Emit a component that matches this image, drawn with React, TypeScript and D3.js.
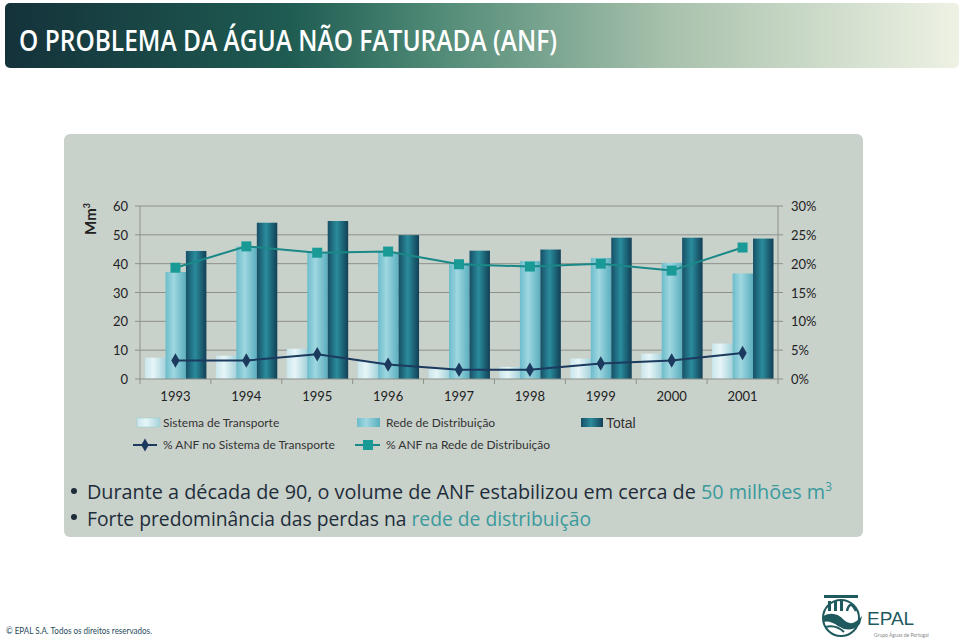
import React from "react";
import * as d3 from "d3";

const years = ["1993", "1994", "1995", "1996", "1997", "1998", "1999", "2000", "2001"];
const sistema = [7.4, 8.1, 10.5, 6.1, 3.4, 4.2, 7.1, 8.8, 12.3];
const rede = [37.1, 46.0, 44.1, 44.1, 40.3, 40.9, 42.0, 40.3, 36.6];
const total = [44.4, 54.2, 54.8, 49.9, 44.5, 44.9, 49.0, 49.0, 48.7];
const pctSistema = [3.2, 3.2, 4.3, 2.5, 1.6, 1.6, 2.7, 3.2, 4.5];
const pctRede = [19.3, 23.0, 21.9, 22.1, 19.9, 19.5, 20.0, 18.8, 22.8];
const leftTicks = [0, 10, 20, 30, 40, 50, 60];
const rightTicks = [0, 5, 10, 15, 20, 25, 30];
const barSeries = ["sistema", "rede", "total"];

export default function App() {
  const W = 959, H = 642;
  const x = d3.scaleBand<string>().domain(years).range([140, 778]).padding(0);
  const inner = d3.scaleBand<string>().domain(barSeries).range([5, x.bandwidth() - 4.5]).padding(0);
  const y = d3.scaleLinear().domain([0, 60]).range([379, 206]);
  const yP = d3.scaleLinear().domain([0, 30]).range([379, 206]);
  const data: Record<string, number[]> = { sistema, rede, total };
  const fills: Record<string, string> = { sistema: "url(#gS)", rede: "url(#gR)", total: "url(#gT)" };
  const cx = (i: number) => (x(years[i]) as number) + x.bandwidth() / 2;
  const lineS = d3.line<number>().x((_, i) => cx(i)).y((d) => yP(d));
  const axisFont = "Lato, 'Open Sans', sans-serif";
  const gridCol = "#8d918a";
  const bw = inner.bandwidth();

  return (
    <svg width={W} height={H} style={{ position: "absolute", left: 0, top: 0, display: "block" }}>
      <defs>
        <linearGradient id="gTitle" x1="0" x2="1" y1="0" y2="0">
          <stop offset="0" stopColor="#14323a" />
          <stop offset="0.3" stopColor="#1f5c52" />
          <stop offset="0.45" stopColor="#4f8a76" />
          <stop offset="0.7" stopColor="#a9c2ad" />
          <stop offset="1" stopColor="#eef2e4" />
        </linearGradient>
        <linearGradient id="gS" x1="0" x2="1" y1="0" y2="0">
          <stop offset="0" stopColor="#c9e6ec" />
          <stop offset="0.4" stopColor="#e6f5f7" />
          <stop offset="1" stopColor="#a6d3dc" />
        </linearGradient>
        <linearGradient id="gR" x1="0" x2="1" y1="0" y2="0">
          <stop offset="0" stopColor="#6cbccb" />
          <stop offset="0.4" stopColor="#9fd7e0" />
          <stop offset="1" stopColor="#5aaebf" />
        </linearGradient>
        <linearGradient id="gT" x1="0" x2="1" y1="0" y2="0">
          <stop offset="0" stopColor="#174f66" />
          <stop offset="0.45" stopColor="#2a8c9c" />
          <stop offset="1" stopColor="#123f55" />
        </linearGradient>
      </defs>
      <rect x={0} y={0} width={W} height={H} fill="#ffffff" />
      {/* title bar */}
      <rect x={5} y={3} width={954} height={65} rx={5} fill="url(#gTitle)" />
      <text x={19} y={51} fill="#ffffff" fontFamily="'Open Sans', sans-serif" fontWeight={600} fontSize={28} textLength={538} lengthAdjust="spacingAndGlyphs">
        O PROBLEMA DA ÁGUA NÃO FATURADA (ANF)
      </text>
      {/* panel */}
      <rect x={64} y={134} width={799} height={403} rx={6} fill="#c9d1cb" />
      {/* gridlines */}
      {leftTicks.slice(1).map((t) => (
        <line key={"g" + t} x1={140} x2={778} y1={y(t)} y2={y(t)} stroke={gridCol} strokeWidth={1} />
      ))}
      {/* bars */}
      {years.map((yr, i) => (
        <g key={yr}>
          {barSeries.map((s) => (
            <rect
              key={s}
              x={(x(yr) as number) + (inner(s) as number)}
              y={y(data[s][i])}
              width={bw}
              height={y(0) - y(data[s][i])}
              fill={fills[s]}
            />
          ))}
        </g>
      ))}
      {/* axes */}
      <line x1={140} x2={140} y1={206} y2={379} stroke={gridCol} />
      <line x1={778} x2={778} y1={206} y2={379} stroke={gridCol} />
      <line x1={140} x2={778} y1={379} y2={379} stroke={gridCol} />
      {leftTicks.map((t) => (
        <g key={"l" + t}>
          <line x1={135} x2={140} y1={y(t)} y2={y(t)} stroke={gridCol} />
          <text x={128} y={y(t) + 5} textAnchor="end" fontFamily={axisFont} fontSize={13} fill="#222">{t}</text>
        </g>
      ))}
      {rightTicks.map((t) => (
        <g key={"r" + t}>
          <line x1={778} x2={783} y1={yP(t)} y2={yP(t)} stroke={gridCol} />
          <text x={791} y={yP(t) + 5} textAnchor="start" fontFamily={axisFont} fontSize={13} fill="#222">{t}%</text>
        </g>
      ))}
      {years.map((yr, i) => (
        <g key={"x" + yr}>
          <line x1={(x(yr) as number) + x.bandwidth()} x2={(x(yr) as number) + x.bandwidth()} y1={379} y2={384} stroke={gridCol} />
          <text x={cx(i)} y={401} textAnchor="middle" fontFamily={axisFont} fontSize={13} fill="#222">{yr}</text>
        </g>
      ))}
      <line x1={140} x2={140} y1={379} y2={384} stroke={gridCol} />
      <text transform="translate(96,219) rotate(-90)" textAnchor="middle" fontFamily={axisFont} fontSize={15} fontWeight={700} fill="#222">
        Mm<tspan fontSize={9} dy={-6}>3</tspan>
      </text>
      {/* lines */}
      <path d={lineS(pctRede) || ""} fill="none" stroke="#1a8886" strokeWidth={2} />
      <path d={lineS(pctSistema) || ""} fill="none" stroke="#1b3a5e" strokeWidth={2} />
      {pctRede.map((v, i) => (
        <rect key={"mr" + i} x={cx(i) - 5} y={yP(v) - 5} width={10} height={10} fill="#1a9a96" />
      ))}
      {pctSistema.map((v, i) => (
        <path key={"ms" + i} d={d3.symbol(d3.symbolDiamond, 60)() || ""} transform={`translate(${cx(i)},${yP(v)})`} fill="#1b3a5e" />
      ))}
      {/* legend */}
      <g fontFamily={axisFont} fontSize={12} fill="#333">
        <rect x={137} y={418} width={23} height={9} fill="url(#gS)" stroke="#9cc" strokeWidth={0.5} />
        <text x={163} y={427}>Sistema de Transporte</text>
        <rect x={357} y={418} width={23} height={9} fill="url(#gR)" />
        <text x={386} y={427}>Rede de Distribuição</text>
        <rect x={581} y={418} width={22} height={9} fill="url(#gT)" />
        <text x={606} y={428} fontFamily="'Liberation Sans', Arial, sans-serif" fontSize={14}>Total</text>
        <line x1={133} x2={157} y1={445} y2={445} stroke="#1b3a5e" strokeWidth={2} />
        <path d={d3.symbol(d3.symbolDiamond, 50)() || ""} transform="translate(145,445)" fill="#1b3a5e" />
        <text x={163} y={449}>% ANF no Sistema de Transporte</text>
        <line x1={355} x2={380} y1={445} y2={445} stroke="#1a8886" strokeWidth={2} />
        <rect x={363} y={440} width={10} height={10} fill="#1a9a96" />
        <text x={386} y={449}>% ANF na Rede de Distribuição</text>
      </g>
      {/* bullets */}
      <g fontFamily="'Open Sans', sans-serif" fontSize={20} fill="#1e2d3a">
        <circle cx={74} cy={491} r={3} fill="#1e2d3a" />
        <text x={87} y={499} textLength={745} lengthAdjust="spacingAndGlyphs">
          Durante a década de 90, o volume de ANF estabilizou em cerca de <tspan fill="#3a9a9c">50 milhões m</tspan><tspan fill="#3a9a9c" fontSize={12} dy={-8}>3</tspan>
        </text>
        <circle cx={74} cy={517} r={3} fill="#1e2d3a" />
        <text x={87} y={526} textLength={504} lengthAdjust="spacingAndGlyphs">
          Forte predominância das perdas na <tspan fill="#3a9a9c">rede de distribuição</tspan>
        </text>
      </g>
      {/* footer */}
      <text x={6} y={634} fontFamily={axisFont} fontSize={10} fill="#1f4a5a" textLength={146} lengthAdjust="spacingAndGlyphs">© EPAL S.A. Todos os direitos reservados.</text>
      {/* logo */}
      <g transform="translate(820,594)">
        <circle cx={21} cy={24} r={18} fill="none" stroke="#1f5a5e" strokeWidth={2} />
        <rect x={4} y={1} width={34} height={3} fill="#1f5a5e" />
        <rect x={8} y={7} width={3} height={10} fill="#1f5a5e" />
        <rect x={14} y={7} width={3} height={10} fill="#1f5a5e" />
        <rect x={20} y={7} width={3} height={10} fill="#1f5a5e" />
        <path d="M27,17 Q30,5 36,17" fill="none" stroke="#1f5a5e" strokeWidth={2.5} />
        <path d="M3,22 Q15,16 24,26 Q32,34 42,22 L40,30 Q30,40 18,32 Q10,26 3,28 Z" fill="#1f5a5e" />
        <path d="M5,33 Q16,30 24,38" fill="none" stroke="#1f5a5e" strokeWidth={2} />
        <text x={47} y={31} fontFamily="'Liberation Sans', Arial, sans-serif" fontSize={19} fill="#1f5a5e">EPAL</text>
        <text x={54} y={43} fontFamily={axisFont} fontSize={5} fill="#888">Grupo Águas de Portugal</text>
      </g>
    </svg>
  );
}
